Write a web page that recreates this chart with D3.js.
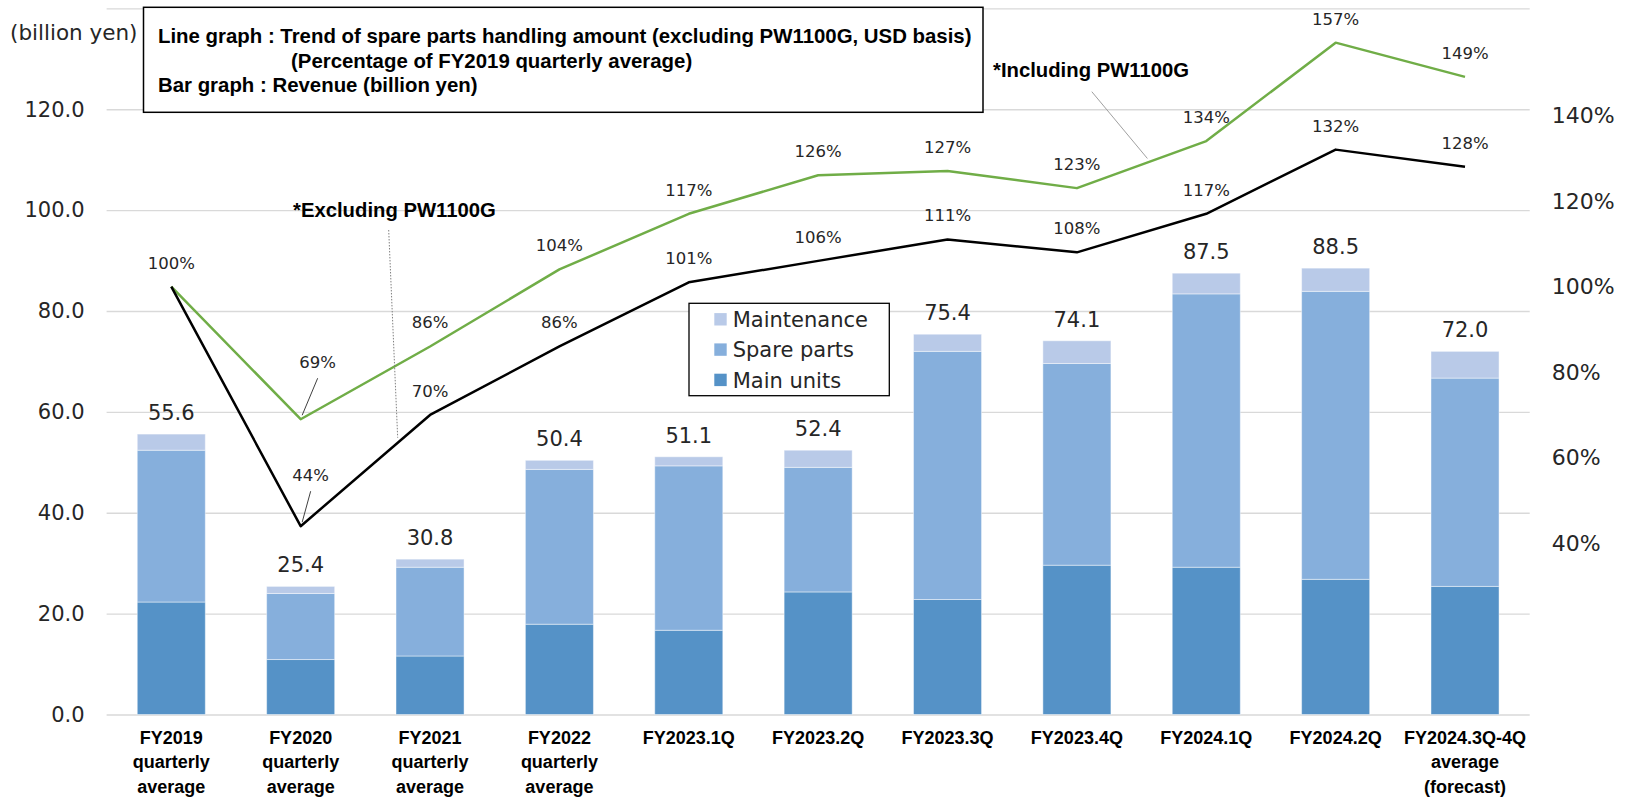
<!DOCTYPE html>
<html>
<head>
<meta charset="utf-8">
<script src="https://cdn.jsdelivr.net/npm/d3@7"></script>
<style>
  html, body { margin: 0; padding: 0; background: #fff; }
  svg { display: block; }
  .num { font-family: "DejaVu Sans", Verdana, sans-serif; fill: #262626; }
  .bold { font-family: "Liberation Sans", Arial, sans-serif; font-weight: bold; fill: #000; }
</style>
</head>
<body>
<svg id="chart" width="1630" height="798"></svg>
<script>
// Periods on the category axis (line breaks shown with "\n")
const categories = [
  "FY2019\nquarterly\naverage",
  "FY2020\nquarterly\naverage",
  "FY2021\nquarterly\naverage",
  "FY2022\nquarterly\naverage",
  "FY2023.1Q",
  "FY2023.2Q",
  "FY2023.3Q",
  "FY2023.4Q",
  "FY2024.1Q",
  "FY2024.2Q",
  "FY2024.3Q-4Q\naverage\n(forecast)"
];

// Revenue components (billion yen)
const mainUnits   = [22.3, 10.9, 11.6, 17.9, 16.7, 24.3, 22.8, 29.6, 29.2, 26.8, 25.4];
const spareParts  = [30.1, 13.1, 17.6, 30.7, 32.6, 24.7, 49.2, 40.0, 54.2, 57.1, 41.3];
const maintenance = [ 3.2,  1.4,  1.6,  1.8,  1.8,  3.4,  3.4,  4.5,  4.1,  4.6,  5.3];
const revenueTotals = [55.6, 25.4, 30.8, 50.4, 51.1, 52.4, 75.4, 74.1, 87.5, 88.5, 72.0];

// Spare parts handling amount, % of FY2019 quarterly average
const excludingPW1100G = [100, 44, 70, 86, 101, 106, 111, 108, 117, 132, 128];
const includingPW1100G = [100, 69, 86, 104, 117, 126, 127, 123, 134, 157, 149];

// Axis ticks
const leftTicks  = [0, 20, 40, 60, 80, 100, 120];
const gridTicks  = [0, 20, 40, 60, 80, 100, 120, 140];
const rightTicks = [40, 60, 80, 100, 120, 140];

const seriesNames = ["Main units", "Spare parts", "Maintenance"];

// ---------------------------------------------------------------
const W = 1630, H = 798;
const margin = { top: 8.4, right: 100.3, bottom: 83.5, left: 106.6 };
const svg = d3.select("#chart");

const x = d3.scaleBand()
  .domain(categories)
  .range([margin.left, W - margin.right])
  .paddingInner(0.474)
  .paddingOuter(0.237);
const yL = d3.scaleLinear().domain([0, 140]).range([H - margin.bottom, margin.top]);
const yR = d3.scaleLinear().domain([0, 165]).range([H - margin.bottom, margin.top]);
const cx = c => x(c) + x.bandwidth() / 2;

// Gridlines
svg.append("g")
  .attr("transform", `translate(${margin.left},0)`)
  .call(d3.axisLeft(yL).tickValues(gridTicks).tickSize(-(W - margin.left - margin.right)).tickFormat(""))
  .call(g => g.select(".domain").remove())
  .call(g => g.selectAll("line").attr("stroke", "#d9d9d9").attr("stroke-width", 1.4));

// Left axis labels
svg.append("g")
  .attr("transform", `translate(${margin.left},0)`)
  .call(d3.axisLeft(yL).tickValues(leftTicks).tickFormat(d3.format(".1f")).tickSize(0).tickPadding(22))
  .call(g => g.select(".domain").remove())
  .call(g => g.selectAll("text").attr("class", "num").attr("font-size", 21).attr("fill", "#262626"));

// Right axis labels
svg.append("g")
  .attr("transform", `translate(${W - margin.right},0)`)
  .call(d3.axisRight(yR).tickValues(rightTicks).tickFormat(d => d + "%").tickSize(0).tickPadding(22))
  .call(g => g.select(".domain").remove())
  .call(g => g.selectAll("text").attr("class", "num").attr("font-size", 22).attr("fill", "#262626"));

// Stacked bars
const rows = categories.map((c, i) => ({
  cat: c, "Main units": mainUnits[i], "Spare parts": spareParts[i], "Maintenance": maintenance[i]
}));
const stacked = d3.stack().keys(seriesNames)(rows);
const color = d3.scaleOrdinal().domain(seriesNames).range(["#5592c7", "#86afdc", "#b9cae8"]);

svg.append("g").selectAll("g")
  .data(stacked).join("g")
  .attr("fill", d => color(d.key))
  .selectAll("rect")
  .data(d => d).join("rect")
  .attr("x", d => x(d.data.cat))
  .attr("width", x.bandwidth())
  .attr("y", d => yL(d[1]))
  .attr("height", d => yL(d[0]) - yL(d[1]))
  .attr("stroke", "#ffffff").attr("stroke-opacity", 0.45).attr("stroke-width", 1);

// Revenue total labels
svg.append("g").selectAll("text")
  .data(categories).join("text")
  .attr("class", "num")
  .attr("font-size", 21)
  .attr("text-anchor", "middle")
  .attr("x", c => cx(c))
  .attr("y", (c, i) => yL(revenueTotals[i]) - 14)
  .text((c, i) => revenueTotals[i].toFixed(1));

// Category labels
const xl = svg.append("g").selectAll("text")
  .data(categories).join("text")
  .attr("class", "bold")
  .attr("font-size", 18)
  .attr("text-anchor", "middle")
  .attr("x", c => cx(c))
  .attr("y", H - margin.bottom + 29);
xl.selectAll("tspan")
  .data(c => c.split("\n").map(t => ({ t, c })))
  .join("tspan")
  .attr("x", d => cx(d.c))
  .attr("dy", (d, i) => i === 0 ? 0 : 24.5)
  .text(d => d.t);

// Lines
const line = d3.line().x((v, i) => cx(categories[i])).y(v => yR(v));
svg.append("path").datum(includingPW1100G)
  .attr("d", line).attr("fill", "none")
  .attr("stroke", "#70ad47").attr("stroke-width", 2.5).attr("stroke-linejoin", "round");
svg.append("path").datum(excludingPW1100G)
  .attr("d", line).attr("fill", "none")
  .attr("stroke", "#000").attr("stroke-width", 2.5).attr("stroke-linejoin", "round");

// Point labels; the FY2020 dip labels sit higher with leader lines
const callout = { 1: { inc: [17, -51], exc: [10, -45] } };
function pointLabels(vals, key, skipFirst) {
  const g = svg.append("g");
  vals.forEach((v, i) => {
    if (skipFirst && i === 0) return;
    const px = cx(categories[i]), py = yR(v);
    const off = callout[i] ? callout[i][key] : [0, -18];
    g.append("text")
      .attr("class", "num").attr("font-size", 16.5)
      .attr("text-anchor", "middle")
      .attr("x", px + off[0]).attr("y", py + off[1])
      .text(v + "%");
    if (callout[i]) {
      g.append("line")
        .attr("x1", px + off[0]).attr("y1", py + off[1] + 10)
        .attr("x2", px + 1.5).attr("y2", py - 4)
        .attr("stroke", "#404040").attr("stroke-width", 1);
    }
  });
}
pointLabels(includingPW1100G, "inc", true);
pointLabels(excludingPW1100G, "exc", false);

// Series annotations with leader lines
function along(vals, i, t) {
  const x0 = cx(categories[i]), x1 = cx(categories[i + 1]);
  return [x0 + (x1 - x0) * t, yR(vals[i]) + (yR(vals[i + 1]) - yR(vals[i])) * t];
}
const exEnd = along(excludingPW1100G, 1, 0.75);
svg.append("line")
  .attr("x1", exEnd[0] - 9).attr("y1", 230)
  .attr("x2", exEnd[0]).attr("y2", exEnd[1] - 5)
  .attr("stroke", "#808080").attr("stroke-width", 1).attr("stroke-dasharray", "1.5,1.5");
svg.append("text").attr("class", "bold").attr("font-size", 20.3)
  .attr("x", 293).attr("y", 216.5).text("*Excluding PW1100G");

const inEnd = along(includingPW1100G, 7, 0.545);
svg.append("line")
  .attr("x1", inEnd[0] - 55.6).attr("y1", 91.7)
  .attr("x2", inEnd[0]).attr("y2", inEnd[1] - 4)
  .attr("stroke", "#a0a0a0").attr("stroke-width", 1);
svg.append("text").attr("class", "bold").attr("font-size", 20.3)
  .attr("x", 993).attr("y", 77.3).text("*Including PW1100G");

// Unit label
svg.append("text").attr("class", "num").attr("font-size", 21.5)
  .attr("x", 10).attr("y", 40).text("(billion yen)");

// Description box
const box = svg.append("g");
box.append("rect")
  .attr("x", 143.5).attr("y", 7.3).attr("width", 839.5).attr("height", 105)
  .attr("fill", "#fff").attr("stroke", "#000").attr("stroke-width", 1.5);
const boxLines = [
  { t: "Line graph : Trend of spare parts handling amount (excluding PW1100G, USD basis)", x: 158, y: 43 },
  { t: "(Percentage of FY2019 quarterly average)", x: 291, y: 67.5 },
  { t: "Bar graph : Revenue (billion yen)", x: 158, y: 92 }
];
box.selectAll("text").data(boxLines).join("text")
  .attr("class", "bold").attr("font-size", 20.4)
  .attr("x", d => d.x).attr("y", d => d.y).text(d => d.t);

// Legend
const lg = svg.append("g").attr("transform", "translate(689,303.3)");
lg.append("rect").attr("width", 200.3).attr("height", 92.4)
  .attr("fill", "#fff").attr("stroke", "#000").attr("stroke-width", 1.3);
const legendOrder = ["Maintenance", "Spare parts", "Main units"];
const li = lg.selectAll("g.item").data(legendOrder).join("g")
  .attr("transform", (d, i) => `translate(0,${16 + i * 30.3})`);
li.append("rect").attr("x", 25.3).attr("y", -6.2).attr("width", 12.4).attr("height", 12.4)
  .attr("fill", d => color(d));
li.append("text").attr("class", "num").attr("font-size", 21).attr("fill", "#000")
  .attr("x", 43.7).attr("y", 7.8).text(d => d);
</script>
</body>
</html>
